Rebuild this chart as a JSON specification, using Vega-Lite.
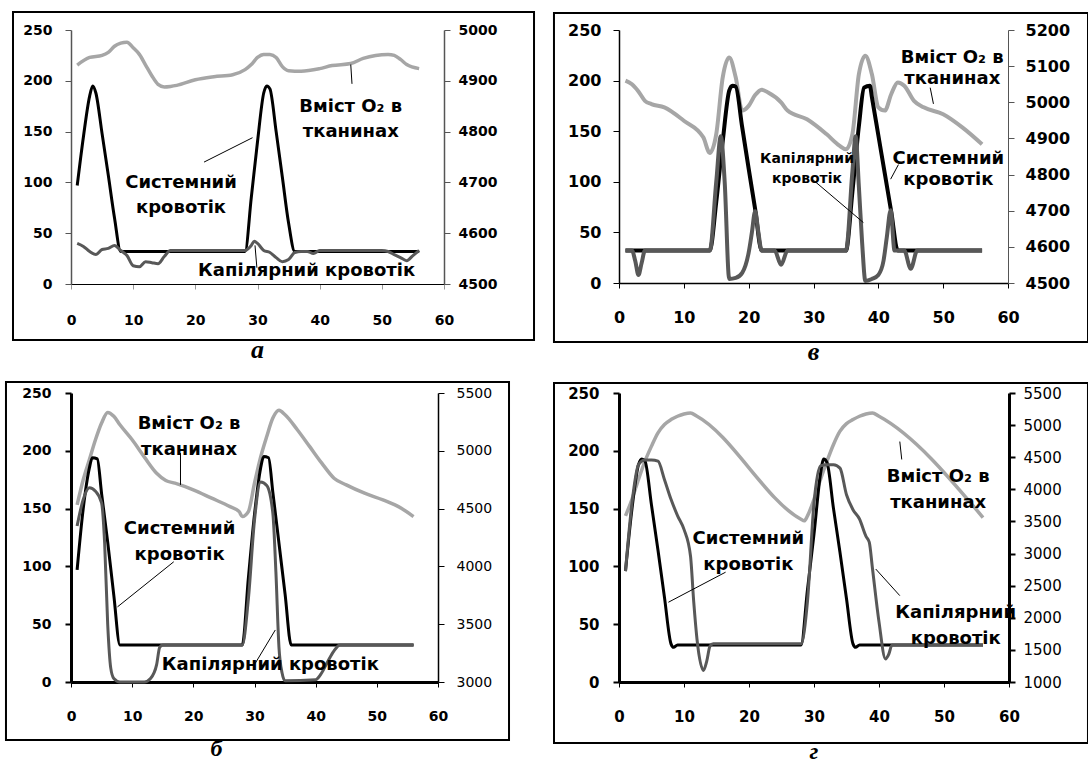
{
"$schema": "https://vega.github.io/schema/vega-lite/v6.json",
"background": "white",
"padding": {"left": 4, "top": 11, "right": 0, "bottom": 0},
"columns": 2,
"bounds": "flush",
"align": "all",
"spacing": {"row": 74, "column": 158},
"config": {"view": {"stroke": null}, "axis": {"grid": false, "labelFont": "DejaVu Sans", "labelFontWeight": "bold", "labelColor": "#000", "labelFlush": false, "labelOverlap": false}},
"datasets": {
"pa": [
{"t":1,"sys":97,"cap":40,"o2":4931},{"t":2,"sys":145,"cap":37},{"t":3,"sys":185,"cap":32,"o2":4946},{"t":3.5,"sys":195},{"t":4,"sys":188,"cap":29},{"t":5,"sys":148,"cap":34,"o2":4950},{"t":6,"sys":107,"cap":35,"o2":4956},{"t":7,"sys":65,"cap":38,"o2":4968},{"t":8,"sys":32,"cap":33,"o2":4974},{"t":9,"cap":28,"o2":4976},{"t":10,"cap":18,"o2":4965},{"t":11,"cap":17,"o2":4952},{"t":12,"cap":22,"o2":4931},{"t":13,"cap":21,"o2":4910},{"t":14,"cap":20,"o2":4893},{"t":15,"cap":27,"o2":4888},{"t":16,"cap":33,"o2":4889},{"t":17,"o2":4891},{"t":20,"o2":4902},{"t":23,"o2":4908},{"t":26,"o2":4912},{"t":28,"sys":32,"cap":33,"o2":4922},{"t":29,"sys":85,"cap":38,"o2":4932},{"t":29.5,"cap":42},{"t":30,"sys":140,"cap":40,"o2":4946},{"t":31,"sys":188,"cap":33,"o2":4952},{"t":31.5,"sys":195},{"t":32,"sys":192,"cap":31,"o2":4952},{"t":33,"sys":150,"cap":26,"o2":4946},{"t":34,"sys":105,"cap":22,"o2":4928},{"t":35,"sys":60,"cap":24,"o2":4920},{"t":36,"sys":32,"cap":31},{"t":37,"cap":32,"o2":4919},{"t":38,"cap":32},{"t":39,"cap":30},{"t":40,"cap":33,"o2":4924},{"t":42,"o2":4930},{"t":45,"o2":4934},{"t":47,"o2":4944},{"t":49,"o2":4950},{"t":50,"cap":33},{"t":51,"cap":32,"o2":4952},{"t":52,"cap":29,"o2":4950},{"t":53,"cap":26,"o2":4942},{"t":54,"cap":23,"o2":4932},{"t":55,"cap":28},{"t":56,"sys":32,"cap":33,"o2":4924}
],
"pv": [
{"t":1,"sys":32,"cap":32,"o2":5060},{"t":2,"cap":32,"o2":5050},{"t":2.5,"cap":22},{"t":3,"cap":8,"o2":5030},{"t":3.5,"cap":20},{"t":4,"cap":32,"o2":5004},{"t":5,"o2":4995},{"t":7,"o2":4986},{"t":10,"o2":4949},{"t":13,"o2":4903},{"t":14,"sys":32,"cap":32,"o2":4860},{"t":15,"sys":80,"cap":100,"o2":4912},{"t":15.7,"cap":145},{"t":16,"sys":140,"o2":5069},{"t":16.3,"cap":100},{"t":17,"sys":190,"cap":4,"o2":5124},{"t":17.5,"sys":195},{"t":18,"sys":194,"cap":5,"o2":5069},{"t":19,"sys":154,"cap":10,"o2":4977},{"t":20,"sys":113,"cap":30,"o2":4990},{"t":20.5,"cap":50},{"t":21,"sys":73,"cap":71,"o2":5020},{"t":21.5,"cap":50},{"t":22,"sys":32,"cap":32,"o2":5035},{"t":23,"o2":5027},{"t":24,"cap":32},{"t":25,"cap":18,"o2":5000},{"t":26,"cap":32,"o2":4977},{"t":29,"o2":4953},{"t":32,"o2":4912},{"t":34,"o2":4880},{"t":35,"sys":32,"cap":32,"o2":4870},{"t":36,"sys":90,"cap":110,"o2":4912},{"t":36.5,"cap":145},{"t":37,"sys":155,"cap":95,"o2":5078},{"t":37.5,"cap":40},{"t":37.8,"sys":193},{"t":38,"cap":2,"o2":5129},{"t":38.7,"sys":195},{"t":39,"sys":184,"cap":4,"o2":5078},{"t":40,"sys":146,"cap":8,"o2":4986},{"t":40.8,"cap":22},{"t":41,"sys":108,"o2":4977},{"t":41.3,"cap":45},{"t":41.9,"cap":72},{"t":42,"sys":70,"o2":5023},{"t":42.5,"cap":32},{"t":43,"sys":32,"o2":5055},{"t":44,"cap":32,"o2":5046},{"t":45,"cap":14},{"t":45.5,"o2":5004},{"t":46,"cap":32},{"t":47,"o2":4986},{"t":50,"o2":4967},{"t":53,"o2":4930},{"t":56,"sys":32,"cap":32,"o2":4884}
],
"pb": [
{"t":1,"sys":97,"cap":135,"o2":4532},{"t":2,"sys":150,"cap":158,"o2":4749},{"t":3,"sys":185,"cap":168,"o2":4922},{"t":3.5,"sys":194},{"t":4,"cap":165,"o2":5095},{"t":4.3,"sys":193},{"t":5,"sys":163,"cap":155,"o2":5240},{"t":5.5,"cap":120},{"t":6,"sys":121,"cap":50,"o2":5332},{"t":6.5,"cap":12},{"t":7,"sys":75,"cap":3,"o2":5298},{"t":8,"sys":32,"cap":0,"o2":5225},{"t":10,"o2":5095},{"t":12,"cap":0,"o2":4945},{"t":13,"cap":3},{"t":14,"cap":15,"o2":4806},{"t":14.5,"cap":30},{"t":15,"cap":32},{"t":15.5,"o2":4743},{"t":17,"o2":4720},{"t":20,"o2":4662},{"t":23,"o2":4590},{"t":26,"o2":4517},{"t":27.5,"o2":4474},{"t":28,"sys":32,"cap":32,"o2":4431},{"t":29,"sys":90,"cap":72,"o2":4474},{"t":30,"sys":145,"cap":140,"o2":4720},{"t":31,"sys":185,"cap":173,"o2":4945},{"t":31.5,"sys":195},{"t":32,"cap":170,"o2":5124},{"t":32.3,"sys":194},{"t":33,"sys":164,"cap":146,"o2":5283},{"t":33.5,"cap":95},{"t":34,"sys":120,"cap":30,"o2":5350},{"t":34.5,"cap":8},{"t":35,"sys":76,"cap":1,"o2":5312},{"t":36,"sys":32},{"t":37,"o2":5182},{"t":39,"o2":5038},{"t":40,"cap":2},{"t":41,"cap":8,"o2":4893},{"t":42,"cap":18},{"t":43,"cap":27,"o2":4763},{"t":44,"cap":32},{"t":45,"o2":4705},{"t":48,"o2":4633},{"t":51,"o2":4575},{"t":54,"o2":4503},{"t":56,"sys":32,"cap":32,"o2":4431}
],
"pg": [
{"t":1,"sys":96,"cap":96,"o2":3587},{"t":2,"sys":150,"cap":155,"o2":3846},{"t":3,"sys":188,"cap":188,"o2":4156},{"t":3.5,"sys":193},{"t":4,"sys":191,"cap":192,"o2":4440},{"t":5,"sys":153,"cap":192,"o2":4673},{"t":6,"sys":114,"cap":191,"o2":4880},{"t":7,"sys":73,"cap":175,"o2":5009},{"t":8,"sys":33,"cap":158,"o2":5086},{"t":8.4,"sys":30},{"t":9,"sys":32,"cap":144,"o2":5138},{"t":10,"cap":132,"o2":5174},{"t":11,"cap":109,"o2":5190},{"t":11.5,"cap":69},{"t":12,"cap":37,"o2":5138},{"t":13,"cap":10},{"t":13.5,"cap":18},{"t":14,"cap":31},{"t":14.5,"cap":33},{"t":28,"sys":32,"cap":33,"o2":3535},{"t":28.5,"o2":3509},{"t":29,"sys":80,"cap":70,"o2":3587},{"t":30,"sys":128,"cap":155,"o2":3846},{"t":31,"sys":180,"cap":187,"o2":4156},{"t":31.5,"sys":193},{"t":32,"sys":190,"cap":188,"o2":4440},{"t":33,"sys":150,"cap":188,"o2":4699},{"t":34,"sys":112,"cap":185,"o2":4906},{"t":35,"sys":72,"cap":162,"o2":5024},{"t":36,"sys":33,"cap":149,"o2":5086},{"t":36.4,"sys":30},{"t":37,"sys":32,"cap":141,"o2":5138},{"t":38,"cap":126,"o2":5174},{"t":38.5,"cap":121},{"t":39,"cap":98,"o2":5190},{"t":40,"cap":52,"o2":5138},{"t":41,"cap":20},{"t":41.5,"cap":24},{"t":42,"cap":32},{"t":56,"sys":32,"cap":32,"o2":3561}
],
"ta": [{"t":45,"v":174,"label":"Вміст O₂ в\nтканинах"},{"t":17.7,"v":99,"label":"Системний\nкровотік"}],
"ta1": [{"t":37.9,"v":13,"label":"Капілярний кровотік"}],
"ra": [{"t":45,"v":216,"t2":45.2,"v2":197},{"t":21.4,"v":120,"t2":29.2,"v2":144},{"t":29.6,"v":38,"t2":29.9,"v2":16}],
"tv": [{"t":51.4,"v":222.7,"label":"Вміст O₂ в\nтканинах"},{"t":50.8,"v":123,"label":"Системний\nкровотік"}],
"tv2": [{"t":29,"v":123,"label":"Капілярний\nкровотік"}],
"rv": [{"t":48,"v":193,"t2":48.5,"v2":177},{"t":41.9,"v":102.6,"t2":43.1,"v2":117},{"t":29.8,"v":102.6,"t2":37.7,"v2":59.7}],
"tb": [{"t":19.3,"v":223,"label":"Вміст O₂ в\nтканинах"},{"t":17.75,"v":132.5,"label":"Системний\nкровотік"}],
"tb1": [{"t":32.6,"v":14.5,"label":"Капілярний кровотік"}],
"rb": [{"t":17.9,"v":198,"t2":17.9,"v2":170.5},{"t":16.8,"v":104,"t2":7.6,"v2":65},{"t":30.1,"v":16,"t2":33.4,"v2":45}],
"tg": [{"t":49.1,"v":177,"label":"Вміст O₂ в\nтканинах"},{"t":19.9,"v":123.5,"label":"Системний\nкровотік"},{"t":51.8,"v":60,"label":"Капілярний\nкровотік"}],
"rg": [{"t":43.2,"v":208,"t2":43.5,"v2":192.5},{"t":16.4,"v":95,"t2":7.6,"v2":69},{"t":39.5,"v":97.7,"t2":43.2,"v2":74.7}]
},
"concat": [
{
"width": 373, "height": 254,
"title": {"text": "а", "orient": "bottom", "anchor": "middle", "font": "Liberation Serif", "fontStyle": "italic", "fontWeight": "bold", "fontSize": 26, "offset": -4, "color": "#000"},
"data": {"name": "pa"},
"layer": [
{"transform": [{"filter": "isValid(datum.o2)"}],
 "mark": {"type": "line", "interpolate": "monotone", "color": "#a6a6a6", "strokeWidth": 3.5},
 "encoding": {
  "x": {"field": "t", "type": "quantitative", "title": null, "scale": {"domain": [0, 60], "nice": false}},
  "y": {"field": "o2", "type": "quantitative", "title": null, "scale": {"domain": [4500, 5000], "nice": false, "zero": false},
        "axis": {"orient": "right", "format": "d", "values": [4500, 4600, 4700, 4800, 4900, 5000], "labelFontSize": 14, "labelFontWeight": "bold", "labelPadding": 8, "tickSize": 6, "domainColor": "#555", "domainWidth": 1.5, "tickColor": "#555"}}
 }},
{"layer": [
 {"data": {"values": [{}]}, "mark": {"type": "rect", "filled": false, "stroke": "#000", "strokeWidth": 2},
  "encoding": {"x": {"datum": -9.33, "type": "quantitative", "title": null, "scale": {"domain": [0, 60], "nice": false}}, "x2": {"datum": 74.48},
               "y": {"datum": -55.1, "type": "quantitative", "title": null, "scale": {"domain": [0, 250], "nice": false}}, "y2": {"datum": 267.7}}},
 {"transform": [{"filter": "isValid(datum.sys)"}],
  "mark": {"type": "line", "interpolate": "monotone", "color": "#000", "strokeWidth": 3},
  "encoding": {
   "x": {"field": "t", "type": "quantitative", "title": null, "scale": {"domain": [0, 60], "nice": false},
         "axis": {"values": [0, 10, 20, 30, 40, 50, 60], "labelFontSize": 14, "labelFontWeight": "bold", "labelPadding": 24, "tickSize": 5, "domainColor": "#000", "domainWidth": 1, "tickColor": "#999"}},
   "y": {"field": "sys", "type": "quantitative", "title": null, "scale": {"domain": [0, 250], "nice": false},
         "axis": {"values": [0, 50, 100, 150, 200, 250], "labelFontSize": 14, "labelFontWeight": "bold", "labelPadding": 13, "tickSize": 6, "domainColor": "#555", "domainWidth": 1.5, "tickColor": "#555"}}
  }},
 {"transform": [{"filter": "isValid(datum.cap)"}],
  "mark": {"type": "line", "interpolate": "monotone", "color": "#585858", "strokeWidth": 3},
  "encoding": {
   "x": {"field": "t", "type": "quantitative", "title": null, "scale": {"domain": [0, 60], "nice": false}},
   "y": {"field": "cap", "type": "quantitative", "title": null, "scale": {"domain": [0, 250], "nice": false}}
  }},
 {"data": {"name": "ra"}, "mark": {"type": "rule", "color": "#000", "strokeWidth": 1},
  "encoding": {"x": {"field": "t", "type": "quantitative", "title": null}, "x2": {"field": "t2"}, "y": {"field": "v", "type": "quantitative", "title": null}, "y2": {"field": "v2"}}},
 {"data": {"name": "ta"}, "mark": {"type": "text", "font": "DejaVu Sans", "fontWeight": "bold", "fontSize": 18, "lineHeight": 25, "align": "center", "baseline": "middle", "lineBreak": "\n", "color": "#000"},
  "encoding": {"x": {"field": "t", "type": "quantitative", "title": null}, "y": {"field": "v", "type": "quantitative", "title": null}, "text": {"field": "label"}}},
 {"data": {"name": "ta1"}, "mark": {"type": "text", "font": "DejaVu Sans", "fontWeight": "bold", "fontSize": 18, "align": "center", "baseline": "middle", "color": "#000"},
  "encoding": {"x": {"field": "t", "type": "quantitative", "title": null}, "y": {"field": "v", "type": "quantitative", "title": null}, "text": {"field": "label"}}}
]}
],
"resolve": {"scale": {"y": "independent"}}
},
{
"width": 389, "height": 253,
"title": {"text": "в", "orient": "bottom", "anchor": "middle", "font": "Liberation Serif", "fontStyle": "italic", "fontWeight": "bold", "fontSize": 26, "offset": -4, "color": "#000"},
"data": {"name": "pv"},
"layer": [
{"transform": [{"filter": "isValid(datum.o2)"}],
 "mark": {"type": "line", "interpolate": "monotone", "color": "#a6a6a6", "strokeWidth": 4},
 "encoding": {
  "x": {"field": "t", "type": "quantitative", "title": null, "scale": {"domain": [0, 60], "nice": false}},
  "y": {"field": "o2", "type": "quantitative", "title": null, "scale": {"domain": [4500, 5200], "nice": false, "zero": false},
        "axis": {"orient": "right", "format": "d", "values": [4500, 4600, 4700, 4800, 4900, 5000, 5100, 5200], "labelFontSize": 16, "labelFontWeight": "bold", "labelPadding": 11, "tickSize": 6, "domainColor": "#555", "domainWidth": 1, "tickColor": "#555"}}
 }},
{"layer": [
 {"data": {"values": [{}]}, "mark": {"type": "rect", "filled": false, "stroke": "#000", "strokeWidth": 2},
  "encoding": {"x": {"datum": -10.03, "type": "quantitative", "title": null, "scale": {"domain": [0, 60], "nice": false}}, "x2": {"datum": 72.34},
               "y": {"datum": -58.3, "type": "quantitative", "title": null, "scale": {"domain": [0, 250], "nice": false}}, "y2": {"datum": 266.8}}},
 {"transform": [{"filter": "isValid(datum.sys)"}],
  "mark": {"type": "line", "interpolate": "monotone", "color": "#000", "strokeWidth": 4},
  "encoding": {
   "x": {"field": "t", "type": "quantitative", "title": null, "scale": {"domain": [0, 60], "nice": false},
         "axis": {"values": [0, 10, 20, 30, 40, 50, 60], "labelFontSize": 16, "labelFontWeight": "bold", "labelPadding": 21, "tickSize": 5, "domainColor": "#000", "domainWidth": 1.5, "tickColor": "#000"}},
   "y": {"field": "sys", "type": "quantitative", "title": null, "scale": {"domain": [0, 250], "nice": false},
         "axis": {"values": [0, 50, 100, 150, 200, 250], "labelFontSize": 16, "labelFontWeight": "bold", "labelPadding": 12, "tickSize": 6, "domainColor": "#000", "domainWidth": 1.5, "tickColor": "#000"}}
  }},
 {"transform": [{"filter": "isValid(datum.cap)"}],
  "mark": {"type": "line", "interpolate": "monotone", "color": "#585858", "strokeWidth": 4},
  "encoding": {
   "x": {"field": "t", "type": "quantitative", "title": null, "scale": {"domain": [0, 60], "nice": false}},
   "y": {"field": "cap", "type": "quantitative", "title": null, "scale": {"domain": [0, 250], "nice": false}}
  }},
 {"data": {"name": "rv"}, "mark": {"type": "rule", "color": "#000", "strokeWidth": 1},
  "encoding": {"x": {"field": "t", "type": "quantitative", "title": null}, "x2": {"field": "t2"}, "y": {"field": "v", "type": "quantitative", "title": null}, "y2": {"field": "v2"}}},
 {"data": {"name": "tv"}, "mark": {"type": "text", "font": "DejaVu Sans", "fontWeight": "bold", "fontSize": 18, "lineHeight": 21, "align": "center", "baseline": "middle", "lineBreak": "\n", "color": "#000"},
  "encoding": {"x": {"field": "t", "type": "quantitative", "title": null}, "y": {"field": "v", "type": "quantitative", "title": null}, "text": {"field": "label"}}},
 {"data": {"name": "tv2"}, "mark": {"type": "text", "font": "DejaVu Sans", "fontWeight": "bold", "fontSize": 14, "lineHeight": 20, "align": "center", "baseline": "middle", "lineBreak": "\n", "color": "#000"},
  "encoding": {"x": {"field": "t", "type": "quantitative", "title": null}, "y": {"field": "v", "type": "quantitative", "title": null}, "text": {"field": "label"}}}
]}
],
"resolve": {"scale": {"y": "independent"}}
},
{
"width": 367, "height": 289,
"title": {"text": "б", "orient": "bottom", "anchor": "middle", "dx": -38, "font": "Liberation Serif", "fontStyle": "italic", "fontWeight": "bold", "fontSize": 24, "offset": -4, "color": "#000"},
"data": {"name": "pb"},
"layer": [
{"transform": [{"filter": "isValid(datum.o2)"}],
 "mark": {"type": "line", "interpolate": "monotone", "color": "#a6a6a6", "strokeWidth": 3.5},
 "encoding": {
  "x": {"field": "t", "type": "quantitative", "title": null, "scale": {"domain": [0, 60], "nice": false}},
  "y": {"field": "o2", "type": "quantitative", "title": null, "scale": {"domain": [3000, 5500], "nice": false, "zero": false},
        "axis": {"orient": "right", "format": "d", "values": [3000, 3500, 4000, 4500, 5000, 5500], "labelFontSize": 14, "labelFontWeight": "normal", "labelPadding": 12, "tickSize": 6, "domainColor": "#000", "domainWidth": 1.5, "tickColor": "#000"}}
 }},
{"layer": [
 {"data": {"values": [{}]}, "mark": {"type": "rect", "filled": false, "stroke": "#000", "strokeWidth": 2},
  "encoding": {"x": {"datum": -10.63, "type": "quantitative", "title": null, "scale": {"domain": [0, 60], "nice": false}}, "x2": {"datum": 71.61},
               "y": {"datum": -50.2, "type": "quantitative", "title": null, "scale": {"domain": [0, 250], "nice": false}}, "y2": {"datum": 259.5}}},
 {"transform": [{"filter": "isValid(datum.sys)"}],
  "mark": {"type": "line", "interpolate": "monotone", "color": "#000", "strokeWidth": 3},
  "encoding": {
   "x": {"field": "t", "type": "quantitative", "title": null, "scale": {"domain": [0, 60], "nice": false},
         "axis": {"values": [0, 10, 20, 30, 40, 50, 60], "labelFontSize": 14, "labelFontWeight": "bold", "labelPadding": 22, "tickSize": 5, "domainColor": "#000", "domainWidth": 3, "tickColor": "#000"}},
   "y": {"field": "sys", "type": "quantitative", "title": null, "scale": {"domain": [0, 250], "nice": false},
         "axis": {"values": [0, 50, 100, 150, 200, 250], "labelFontSize": 14, "labelFontWeight": "bold", "labelPadding": 14, "tickSize": 6, "tickWidth": 2, "domainColor": "#000", "domainWidth": 3, "tickColor": "#000"}}
  }},
 {"transform": [{"filter": "isValid(datum.cap)"}],
  "mark": {"type": "line", "interpolate": "monotone", "color": "#585858", "strokeWidth": 3},
  "encoding": {
   "x": {"field": "t", "type": "quantitative", "title": null, "scale": {"domain": [0, 60], "nice": false}},
   "y": {"field": "cap", "type": "quantitative", "title": null, "scale": {"domain": [0, 250], "nice": false}}
  }},
 {"data": {"name": "rb"}, "mark": {"type": "rule", "color": "#000", "strokeWidth": 1},
  "encoding": {"x": {"field": "t", "type": "quantitative", "title": null}, "x2": {"field": "t2"}, "y": {"field": "v", "type": "quantitative", "title": null}, "y2": {"field": "v2"}}},
 {"data": {"name": "tb"}, "mark": {"type": "text", "font": "DejaVu Sans", "fontWeight": "bold", "fontSize": 18, "lineHeight": 26, "align": "center", "baseline": "middle", "lineBreak": "\n", "color": "#000"},
  "encoding": {"x": {"field": "t", "type": "quantitative", "title": null}, "y": {"field": "v", "type": "quantitative", "title": null}, "text": {"field": "label"}}},
 {"data": {"name": "tb1"}, "mark": {"type": "text", "font": "DejaVu Sans", "fontWeight": "bold", "fontSize": 18, "align": "center", "baseline": "middle", "color": "#000"},
  "encoding": {"x": {"field": "t", "type": "quantitative", "title": null}, "y": {"field": "v", "type": "quantitative", "title": null}, "text": {"field": "label"}}}
]}
],
"resolve": {"scale": {"y": "independent"}}
},
{
"width": 390, "height": 289,
"title": {"text": "г", "orient": "bottom", "anchor": "middle", "font": "Liberation Serif", "fontStyle": "italic", "fontWeight": "bold", "fontSize": 24, "offset": -4, "color": "#000"},
"data": {"name": "pg"},
"layer": [
{"transform": [{"filter": "isValid(datum.o2)"}],
 "mark": {"type": "line", "interpolate": "monotone", "color": "#a6a6a6", "strokeWidth": 3.5},
 "encoding": {
  "x": {"field": "t", "type": "quantitative", "title": null, "scale": {"domain": [0, 60], "nice": false}},
  "y": {"field": "o2", "type": "quantitative", "title": null, "scale": {"domain": [1000, 5500], "nice": false, "zero": false},
        "axis": {"orient": "right", "format": "d", "values": [1000, 1500, 2000, 2500, 3000, 3500, 4000, 4500, 5000, 5500], "labelFontSize": 15, "labelFontWeight": "normal", "labelPadding": 8, "tickSize": 6, "tickWidth": 2, "domainColor": "#000", "domainWidth": 3, "tickColor": "#000"}}
 }},
{"layer": [
 {"data": {"values": [{}]}, "mark": {"type": "rect", "filled": false, "stroke": "#000", "strokeWidth": 2},
  "encoding": {"x": {"datum": -10.0, "type": "quantitative", "title": null, "scale": {"domain": [0, 60], "nice": false}}, "x2": {"datum": 72.15},
               "y": {"datum": -52.8, "type": "quantitative", "title": null, "scale": {"domain": [0, 250], "nice": false}}, "y2": {"datum": 258.7}}},
 {"transform": [{"filter": "isValid(datum.sys)"}],
  "mark": {"type": "line", "interpolate": "monotone", "color": "#000", "strokeWidth": 3},
  "encoding": {
   "x": {"field": "t", "type": "quantitative", "title": null, "scale": {"domain": [0, 60], "nice": false},
         "axis": {"values": [0, 10, 20, 30, 40, 50, 60], "labelFontSize": 15, "labelFontWeight": "bold", "labelPadding": 22, "tickSize": 5, "domainColor": "#000", "domainWidth": 3, "tickColor": "#000"}},
   "y": {"field": "sys", "type": "quantitative", "title": null, "scale": {"domain": [0, 250], "nice": false},
         "axis": {"values": [0, 50, 100, 150, 200, 250], "labelFontSize": 15, "labelFontWeight": "bold", "labelPadding": 14, "tickSize": 6, "tickWidth": 2, "domainColor": "#000", "domainWidth": 3, "tickColor": "#000"}}
  }},
 {"transform": [{"filter": "isValid(datum.cap)"}],
  "mark": {"type": "line", "interpolate": "monotone", "color": "#585858", "strokeWidth": 3},
  "encoding": {
   "x": {"field": "t", "type": "quantitative", "title": null, "scale": {"domain": [0, 60], "nice": false}},
   "y": {"field": "cap", "type": "quantitative", "title": null, "scale": {"domain": [0, 250], "nice": false}}
  }},
 {"data": {"name": "rg"}, "mark": {"type": "rule", "color": "#000", "strokeWidth": 1},
  "encoding": {"x": {"field": "t", "type": "quantitative", "title": null}, "x2": {"field": "t2"}, "y": {"field": "v", "type": "quantitative", "title": null}, "y2": {"field": "v2"}}},
 {"data": {"name": "tg"}, "mark": {"type": "text", "font": "DejaVu Sans", "fontWeight": "bold", "fontSize": 18, "lineHeight": 26, "align": "center", "baseline": "middle", "lineBreak": "\n", "color": "#000"},
  "encoding": {"x": {"field": "t", "type": "quantitative", "title": null}, "y": {"field": "v", "type": "quantitative", "title": null}, "text": {"field": "label"}}}
]}
],
"resolve": {"scale": {"y": "independent"}}
}
]
}
